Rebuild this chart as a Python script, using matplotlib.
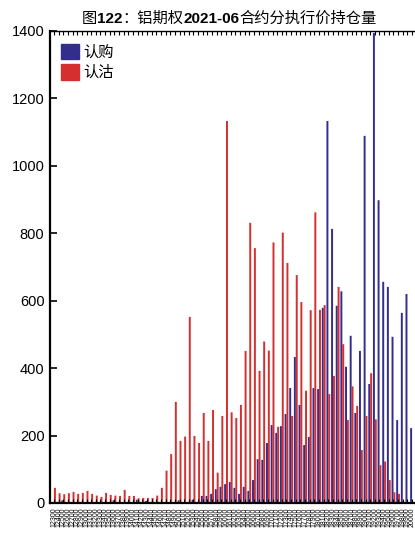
import matplotlib
matplotlib.use("Agg")
import matplotlib.pyplot as plt
import numpy as np
from matplotlib.patches import Patch

# === DATA ===
strikes = [12300, 12400, 12500, 12600, 12700, 12800, 12900, 13000, 13100, 13200,
           13300, 13400, 13500, 13600, 13700, 13800, 13900, 14000, 14100, 14200,
           14300, 14400, 14500, 14600, 14700, 14800, 14900, 15000, 15100, 15200,
           15300, 15400, 15500, 15600, 15700, 15800, 15900, 16000, 16100, 16200,
           16300, 16400, 16500, 16600, 16700, 16800, 16900, 17000, 17100, 17200,
           17300, 17400, 17500, 17600, 17700, 17800, 17900, 18000, 18100, 18200,
           18300, 18400, 18500, 18600, 18700, 18800, 18900, 19000, 19100, 19200,
           19300, 19400, 19500, 19600, 19700, 19800, 19900, 20000]

calls = [0, 0, 8, 0, 0, 0, 0, 0, 0, 0,
         0, 0, 0, 8, 0, 0, 0, 0, 10, 0,
         6, 0, 0, 0, 0, 0, 0, 8, 0, 0,
         10, 0, 21, 21, 27, 41, 48, 56, 62, 45,
         27, 48, 36, 68, 130, 128, 178, 231, 208, 228,
         264, 341, 433, 291, 172, 196, 341, 338, 579, 1133,
         813, 585, 628, 404, 496, 267, 451, 1089, 353, 1394,
         898, 656, 641, 493, 246, 564, 620, 222]

puts = [45, 29, 26, 29, 33, 27, 30, 36, 27, 22,
        18, 30, 24, 22, 21, 39, 21, 21, 14, 15,
        15, 15, 22, 45, 96, 145, 300, 184, 197, 552,
        199, 178, 267, 184, 276, 90, 258, 1133, 269, 252,
        291, 451, 831, 756, 392, 479, 452, 773, 226, 802,
        712, 258, 676, 596, 333, 572, 862, 573, 587, 323,
        377, 641, 471, 246, 346, 288, 157, 258, 385, 248,
        112, 123, 68, 32, 27, 0, 0, 0]

OUTPUT_FILE = "out.png"

# === STYLE ===
plt.rcParams['font.family'] = ['Liberation Sans', 'Noto Sans CJK SC', 'DejaVu Sans']
COLOR_CALL = "#332D8C"
COLOR_PUT = "#D3302F"

W, H = 415, 540
fig = plt.figure(figsize=(W / 100, H / 100), dpi=100)
ax = fig.add_axes([50 / W, 1 - 503 / H, 1 - 50 / W, (503 - 31) / H])

x = np.arange(len(strikes))
width = 0.42
ax.bar(x - 0.2, calls, width, color=COLOR_CALL, label='认购', snap=False)
ax.bar(x + 0.2, puts, width, color=COLOR_PUT, label='认沽', snap=False)

ax.set_ylim(0, 1400)
ax.set_yticks(np.arange(0, 1401, 200))
ax.set_xlim(-0.86, -0.86 + 365 / 4.65)
ax.set_xticks(x)
ax.set_xticklabels([str(s) for s in strikes], rotation=90, fontsize=5)
ax.tick_params(axis='y', direction='in', length=5, width=1.2, labelsize=10.5, pad=4)
ax.tick_params(axis='x', direction='in', length=3, width=0.8, top=True, pad=3)
for side in ['left', 'bottom']:
    ax.spines[side].set_linewidth(1.6)
ax.spines['top'].set_linewidth(1.0)
ax.spines['right'].set_visible(False)

handles = [Patch(color=COLOR_CALL, label='认购'), Patch(color=COLOR_PUT, label='认沽')]
ax.legend(handles=handles, loc='upper left', frameon=False, fontsize=11,
          handlelength=1.2, handleheight=1.15, handletextpad=0.25,
          labelspacing=0.3, borderaxespad=0.3, bbox_to_anchor=(0.0, 0.995))

# === TITLE (mixed weight) ===
pieces = [("图", 'normal'), ("122", 'bold'), ("：铝期权", 'normal'),
          ("2021-06", 'bold'), ("合约分执行价持仓量", 'normal')]
renderer = fig.canvas.get_renderer()
texts = [fig.text(0, 1 - 23 / H, s, fontsize=11, fontweight=w,
                  ha='left', va='baseline') for s, w in pieces]
widths = [t.get_window_extent(renderer).width for t in texts]
xpos = 229 - sum(widths) / 2
for t, w in zip(texts, widths):
    t.set_x(xpos / W)
    xpos += w

plt.savefig(OUTPUT_FILE, dpi=100, facecolor='white')
